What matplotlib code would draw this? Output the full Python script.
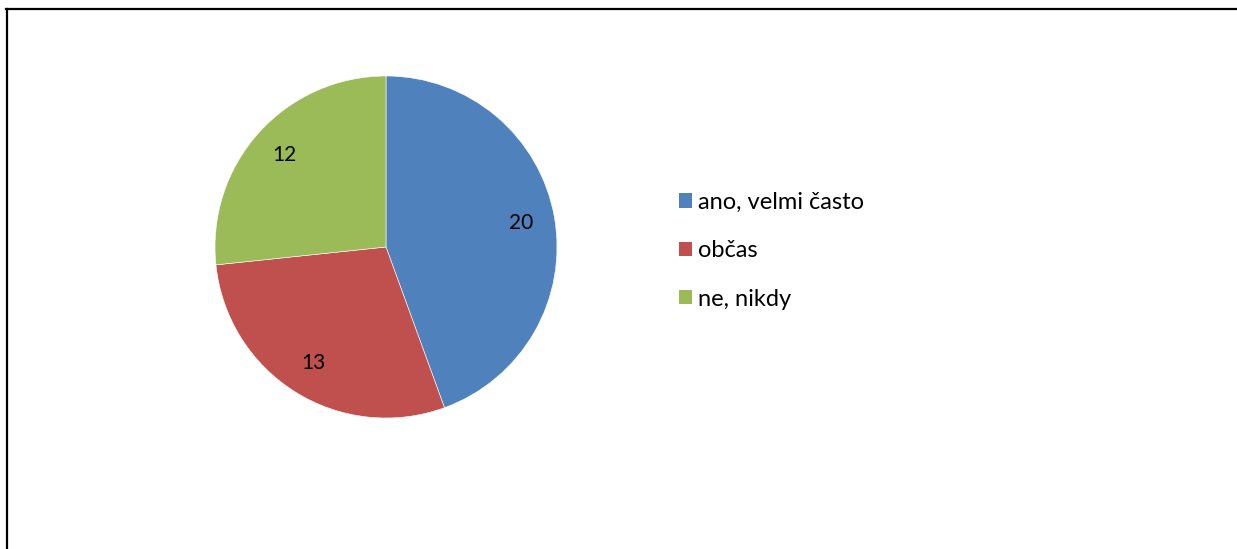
import matplotlib.pyplot as plt
from matplotlib.lines import Line2D
from matplotlib.patches import Patch

labels = ["ano, velmi často", "občas", "ne, nikdy"]
values = [20, 13, 12]
colors = ["#4F81BD", "#C0504D", "#9BBB59"]

plt.rcParams['font.family'] = ['Lato', 'DejaVu Sans']

W, H = 1237, 549
fig = plt.figure(figsize=(W / 100, H / 100), dpi=100)

# pie centred at (386, 247) px with radius 171 px
cx, cy, r = 386, 247, 171
ax = fig.add_axes([(cx - r) / W, (H - cy - r) / H, 2 * r / W, 2 * r / H])
wedges, texts, autotexts = ax.pie(
    values, colors=colors, startangle=90, counterclock=False,
    autopct=lambda p: f"{round(p * sum(values) / 100):d}", pctdistance=0.8,
    wedgeprops=dict(edgecolor="white", linewidth=0.4),
    textprops=dict(fontsize=15, color="black"))
ax.set_xlim(-1, 1)
ax.set_ylim(-1, 1)
ax.set_aspect("equal")

handles = [Patch(facecolor=c, edgecolor="none") for c in colors]
fig.legend(handles, labels, loc="upper left",
           bbox_to_anchor=(667 / W, 1 - 180 / H),
           frameon=False, fontsize=17, handlelength=0.55, handleheight=0.55,
           handletextpad=0.25, labelspacing=1.16, borderpad=0)

# chart-area frame: left and top edges
fig.add_artist(Line2D([7 / W, 7 / W], [0, 1 - 8.5 / H], transform=fig.transFigure,
                      color="black", linewidth=1.6))
fig.add_artist(Line2D([6 / W, 1], [1 - 8.5 / H, 1 - 8.5 / H], transform=fig.transFigure,
                      color="black", linewidth=1.6))

fig.savefig("out.png", dpi=100, facecolor="white")
